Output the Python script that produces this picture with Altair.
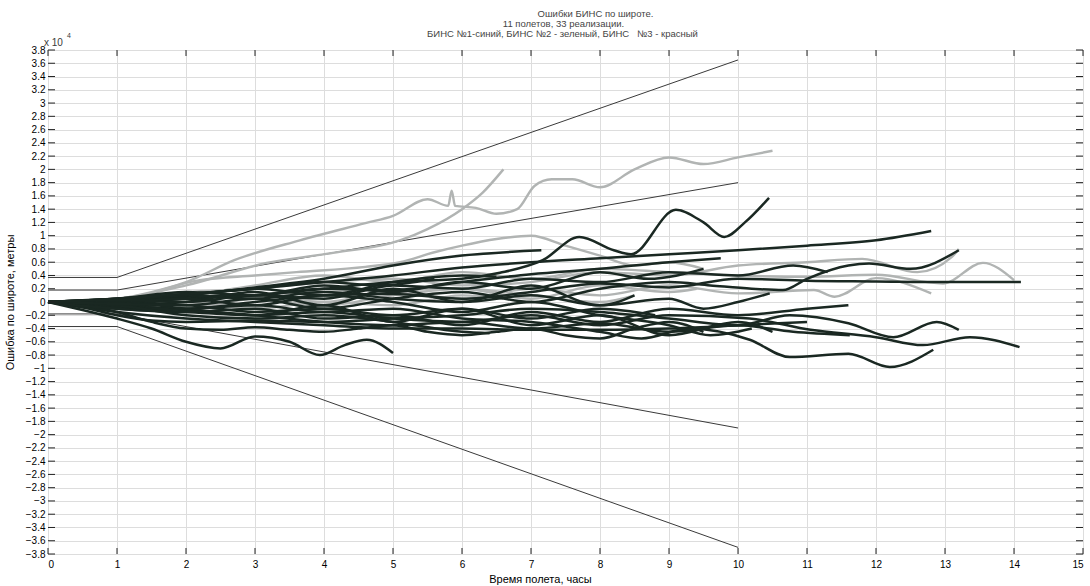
import altair as alt
import pandas as pd

TITLE = ["Ошибки БИНС по широте.", "11 полетов, 33 реализации.",
         "БИНС №1-синий, БИНС №2 - зеленый, БИНС\u00a0\u00a0\u00a0№3 - красный"]
X_TITLE = "Время полета, часы"
Y_TITLE = "Ошибка по широте, метры"
X_TICKS = [0, 1, 2, 3, 4, 5, 6, 7, 8, 9, 10, 11, 12, 13, 14, 15]
Y_TICKS = [-3.8, -3.6, -3.4, -3.2, -3.0, -2.8, -2.6, -2.4, -2.2, -2.0, -1.8, -1.6, -1.4, -1.2,
           -1.0, -0.8, -0.6, -0.4, -0.2, 0.0, 0.2, 0.4, 0.6, 0.8, 1.0, 1.2, 1.4, 1.6, 1.8,
           2.0, 2.2, 2.4, 2.6, 2.8, 3.0, 3.2, 3.4, 3.6, 3.8]

# envelope lines (hours, error x 10^4 m)
ENV_UO = [(0, 0.37), (1, 0.37), (10, 3.65)]
ENV_UI = [(0, 0.18), (1, 0.18), (10, 1.8)]
ENV_LI = [(0, -0.18), (1, -0.18), (10, -1.9)]
ENV_LO = [(0, -0.37), (1, -0.37), (10, -3.7)]

# light (grey) realisations
L1 = [(0, 0), (1, 0.05), (1.5, 0.15), (2, 0.3), (2.7, 0.63), (3.65, 0.93), (4.6, 1.19), (5.0, 1.3),
      (5.5, 1.55), (5.8, 1.45), (5.85, 1.68), (5.9, 1.45), (6.2, 1.42), (6.5, 1.33), (6.8, 1.4),
      (7.05, 1.75), (7.3, 1.85), (7.6, 1.85), (8.0, 1.73), (8.5, 2.0), (9.0, 2.18), (9.5, 2.08),
      (10.0, 2.18), (10.5, 2.28)]
L2 = [(0, 0), (1, 0.05), (2, 0.25), (3.17, 0.59), (4.13, 0.74), (5.1, 0.93), (5.5, 1.1),
      (6.0, 1.4), (6.3, 1.65), (6.6, 2.0)]
L3 = [(0, 0), (1, 0.03), (2.2, 0.33), (3, 0.4), (3.6, 0.45), (4.6, 0.53), (5.1, 0.6), (5.6, 0.75),
      (6, 0.85), (6.5, 0.95), (7, 1.0), (7.5, 0.85), (8, 0.7), (8.5, 0.55), (9, 0.6), (9.5, 0.5)]
L4 = [(0, 0), (1, 0.05), (2, 0.15), (3, 0.2), (4, 0.3), (5, 0.35), (6, 0.25), (7, 0.3), (8, 0.45),
      (9, 0.4), (10, 0.55), (11, 0.6), (11.8, 0.65), (12.6, 0.45), (13.1, 0.68), (13.2, 0.8)]
L5 = [(0, 0), (1, 0.0), (2, 0.05), (3, 0.1), (4, 0.0), (5, 0.15), (6, 0.05), (7, 0.2), (8, 0.1),
      (9, 0.25), (10, 0.13), (11.1, 0.18), (11.4, 0.08), (12, 0.36), (12.8, 0.13)]
L6 = [(0, 0), (1, 0.03), (2, 0.1), (3, 0.25), (4, 0.4), (5, 0.3), (6, 0.45), (7, 0.35), (8, 0.5),
      (9, 0.45), (10, 0.4), (11, 0.38), (12, 0.41), (12.97, 0.28), (13.55, 0.59), (14.0, 0.33)]
L7 = [(0, 0), (2, 0.05), (4, 0.15), (6, 0.2), (7, 0.05), (8, 0.25), (9, 0.15), (9.4, 0.2)]
L8 = [(0, 0), (1, -0.05), (2, -0.1), (3, 0.05), (4, -0.05), (5, 0.1), (6, 0.2), (7, 0.1),
      (8, 0.0), (8.5, 0.1)]
L9 = [(0, 0), (1, -0.02), (2, 0.0), (3, -0.1), (4, 0.0), (5, -0.05), (6, 0.1), (6.6, 0.05)]

# dark realisations
D1 = [(0, 0), (1, -0.02), (2, 0.05), (3, 0.1), (4, 0.2), (5, 0.3), (6, 0.35), (6.55, 0.44),
      (7.17, 0.63), (7.7, 0.98), (8.2, 0.78), (8.45, 0.72), (9.1, 1.39), (9.5, 1.2), (9.8, 0.98),
      (10.1, 1.2), (10.45, 1.57)]
D2 = [(0, 0), (1, 0.05), (2, 0.12), (3, 0.2), (4, 0.3), (5, 0.4), (6, 0.52), (7, 0.6), (8, 0.66),
      (9, 0.72), (10, 0.78), (11, 0.85), (12, 0.93), (12.8, 1.07)]
D3 = [(0, 0), (1, 0.03), (2, 0.1), (3, 0.22), (4, 0.35), (5, 0.55), (6, 0.7), (7.15, 0.78)]
D4 = [(0, 0), (1, 0.0), (2, 0.08), (3, 0.1), (4, 0.2), (5, 0.18), (6, 0.3), (7, 0.42), (8, 0.5),
      (9, 0.6), (9.75, 0.66)]
D5 = [(0, 0), (1, -0.05), (2, -0.1), (3, 0.0), (4, 0.1), (5, 0.12), (6, 0.05), (7, 0.15),
      (8, 0.28), (9, 0.22), (10, 0.35), (11, 0.32), (12, 0.31), (13, 0.3), (14.1, 0.3)]
D6 = [(0, 0), (1, 0.02), (2, -0.05), (3, 0.05), (4, -0.1), (5, 0.05), (6, 0.15), (7, 0.0),
      (8, 0.2), (9, 0.3), (9.6, 0.25), (10.2, 0.2), (10.65, 0.18), (11.0, 0.35), (11.6, 0.55),
      (11.9, 0.58), (12.5, 0.5), (13.2, 0.78)]
D7 = [(0, 0), (1, -0.1), (2, -0.15), (3, -0.2), (4, -0.15), (5, -0.25), (6, -0.3), (7, -0.2),
      (8, -0.35), (9, -0.2), (10.17, -0.25), (11.05, -0.42), (12.0, -0.53), (12.68, -0.65),
      (13.36, -0.53), (14.08, -0.68)]
D8 = [(0, 0), (0.5, -0.08), (1, -0.2), (1.5, -0.28), (2, -0.3), (3, -0.28), (4, -0.3), (5, -0.25),
      (6, -0.2), (7, -0.1), (8, -0.15), (9, -0.25), (10, -0.35), (10.75, -0.2), (11.6, -0.32),
      (12.25, -0.53), (12.88, -0.3), (13.2, -0.42)]
D9 = [(0, 0), (1, -0.05), (2, -0.1), (3, -0.05), (4, -0.15), (5, -0.1), (6, -0.25), (7, -0.3),
      (8, -0.45), (8.6, -0.55), (9.3, -0.4), (10.17, -0.57), (10.75, -0.83), (11.6, -0.78),
      (12.2, -0.98), (12.83, -0.72)]
D10 = [(0, 0), (1, -0.08), (2, -0.12), (3, -0.2), (4, -0.3), (5, -0.35), (6, -0.3), (7, -0.4),
       (8, -0.32), (9, -0.45), (10, -0.35), (10.8, -0.45), (11.62, -0.5)]
D11 = [(0, 0), (1, 0.02), (2, 0.1), (3, 0.05), (4, 0.15), (5, 0.05), (6, 0.0), (7, 0.1),
       (8, -0.05), (9, 0.05), (9.5, -0.1), (10, 0.0), (10.46, 0.13)]
D12 = [(0, 0), (1, -0.15), (2, -0.25), (3, -0.3), (4, -0.35), (5, -0.4), (6, -0.4), (7, -0.42),
       (8, -0.42), (9, -0.4), (10, -0.35), (11.0, -0.3)]
D13 = [(0, 0), (0.5, -0.12), (1, -0.25), (1.5, -0.4), (2, -0.6), (2.5, -0.7), (3, -0.52),
       (3.5, -0.6), (3.94, -0.8), (4.3, -0.65), (4.62, -0.57), (5.0, -0.77)]
D14 = [(0, 0), (1, -0.15), (1.5, -0.3), (2, -0.4), (2.5, -0.42), (3, -0.38), (3.5, -0.42),
       (4, -0.45), (4.5, -0.4), (5, -0.35), (5.5, -0.45), (6, -0.5), (6.5, -0.45), (7, -0.4),
       (7.5, -0.5), (8, -0.55), (8.5, -0.4), (9, -0.3), (9.5, -0.45)]
D15 = [(0, 0), (1, 0.05), (2, 0.15), (3, 0.1), (4, 0.25), (5, 0.15), (6, 0.3), (7, 0.2),
       (8, 0.45), (8.7, 0.35), (9.5, 0.5)]
D16 = [(0, 0), (1, -0.05), (2, 0.0), (3, 0.15), (4, -0.05), (5, 0.2), (6, 0.0), (7, 0.25),
       (8, -0.05), (8.5, 0.1)]
D17 = [(0, 0), (1, 0.0), (2, -0.1), (3, -0.2), (4, -0.05), (5, -0.3), (6, -0.1), (7, -0.35),
       (8, -0.2), (9, -0.5), (10, -0.3), (10.5, -0.45)]
D18 = [(0, 0), (1, 0.05), (2, 0.1), (3, 0.2), (4, 0.1), (5, 0.3), (6, 0.4), (6.5, 0.38)]
D19 = [(0, 0), (1, -0.1), (2, -0.15), (3, -0.1), (4, -0.25), (5, -0.2), (6, -0.35), (7, -0.15),
       (8, -0.3), (9, -0.1), (10, -0.2), (11, -0.1), (11.6, -0.05)]
D20 = [(0, 0), (1, 0.0), (2, 0.05), (3, -0.05), (4, 0.1), (5, 0.0), (6, -0.15), (7, 0.0),
       (8, -0.2), (9, -0.35), (9.6, -0.5), (10.2, -0.4)]
D21 = [(0, 0), (1, 0.05), (2, 0.12), (3, 0.2), (4, 0.3), (4.8, 0.25), (5.6, 0.35)]
D22 = [(0, 0), (1, -0.05), (2, -0.2), (3, -0.25), (4, -0.2), (5, -0.3), (6, -0.45), (6.4, -0.47)]
D23 = [(0, 0), (1, -0.03), (2, -0.05), (3, -0.15), (4, -0.1), (5, -0.2), (6, -0.1), (7, -0.25),
       (8, -0.1), (8.8, -0.2)]
D24 = [(0, 0), (1, 0.03), (2, 0.0), (3, 0.1), (4, 0.05), (5, 0.25), (6, 0.2), (7, 0.35),
       (8, 0.3), (9, 0.45), (10, 0.4), (10.8, 0.55), (11.3, 0.45)]

ENVELOPES = {"uo": ENV_UO, "ui": ENV_UI, "li": ENV_LI, "lo": ENV_LO}
LIGHT = {"L1": L1, "L2": L2, "L3": L3, "L4": L4, "L5": L5, "L6": L6, "L7": L7, "L8": L8, "L9": L9}
DARK = {"D1": D1, "D2": D2, "D3": D3, "D4": D4, "D5": D5, "D6": D6, "D7": D7, "D8": D8,
        "D9": D9, "D10": D10, "D11": D11, "D12": D12, "D13": D13, "D14": D14, "D15": D15,
        "D16": D16, "D17": D17, "D18": D18, "D19": D19, "D20": D20, "D21": D21, "D22": D22,
        "D23": D23, "D24": D24}


def table(series):
    rows = []
    for name, pts in series.items():
        for i, (t, v) in enumerate(pts):
            rows.append({"s": name, "i": i, "t": t, "v": v})
    return pd.DataFrame(rows)


W, H = 1035, 504
FONT = "Liberation Sans"
TXT = "#3a3a3a"

X = alt.X("t:Q", scale=alt.Scale(domain=[0, 15], nice=False, zero=False),
          axis=alt.Axis(values=X_TICKS, title=X_TITLE, grid=True, tickSize=0, domain=False,
                        labelPadding=5, titlePadding=4, titleX=492, titleFontWeight="normal"))
Y = alt.Y("v:Q", scale=alt.Scale(domain=[-3.8, 3.8], nice=False, zero=False),
          axis=alt.Axis(values=Y_TICKS, format=".1~f", title=Y_TITLE, grid=True, tickSize=0,
                        domain=False, labelPadding=3, titlePadding=10, titleFontWeight="normal"))

env = alt.Chart(table(ENVELOPES)).mark_line(color="#3a3a3a", strokeWidth=1).encode(
    x=X, y=Y, detail="s:N", order="i:Q")
light = alt.Chart(table(LIGHT)).mark_line(
    color="#b1b4b3", strokeWidth=2.4, interpolate="monotone").encode(
    x=X, y=Y, detail="s:N", order="i:Q")
dark = alt.Chart(table(DARK)).mark_line(
    color="#1a2822", strokeWidth=2.5, interpolate="monotone").encode(
    x=X, y=Y, detail="s:N", order="i:Q")

xt = pd.DataFrame({"t": X_TICKS})
yt = pd.DataFrame({"v": Y_TICKS})
tick_col = "#222222"
ticks_b = alt.Chart(xt).mark_rule(color=tick_col, strokeWidth=1).encode(
    x=X, y=alt.value(H), y2=alt.value(H - 6))
ticks_t = alt.Chart(xt).mark_rule(color=tick_col, strokeWidth=1).encode(
    x=X, y=alt.value(0), y2=alt.value(6))
ticks_l = alt.Chart(yt).mark_rule(color=tick_col, strokeWidth=1).encode(
    y=Y, x=alt.value(0), x2=alt.value(7))
ticks_r = alt.Chart(yt).mark_rule(color=tick_col, strokeWidth=1).encode(
    y=Y, x=alt.value(W), x2=alt.value(W - 7))

exp_base = alt.Chart(pd.DataFrame({"s": ["x 10"]})).mark_text(
    font=FONT, fontSize=10, color=TXT, align="left", baseline="middle").encode(
    text="s:N", x=alt.value(-4), y=alt.value(-7))
exp_pow = alt.Chart(pd.DataFrame({"s": ["4"]})).mark_text(
    font=FONT, fontSize=7, color=TXT, align="left", baseline="middle").encode(
    text="s:N", x=alt.value(19), y=alt.value(-14))

title_layers = []
for line, yy, xx in zip(TITLE, [-36, -26, -16], [W / 2 + 30, W / 2 - 2, W / 2 - 3]):
    title_layers.append(
        alt.Chart(pd.DataFrame({"s": [line]})).mark_text(
            font=FONT, fontSize=9.5, color="#444", align="center", baseline="middle").encode(
            text="s:N", x=alt.value(xx), y=alt.value(yy)))

chart = alt.layer(env, light, dark, ticks_b, ticks_t, ticks_l, ticks_r, exp_base, exp_pow,
                  *title_layers).properties(
    width=W, height=H,
    autosize=alt.AutoSizeParams(type="none"),
    padding={"left": 48, "top": 50, "right": 7, "bottom": 32},
).configure_view(
    stroke="#222", strokeWidth=1
).configure_axis(
    labelFont=FONT, titleFont=FONT, labelFontSize=10, titleFontSize=10,
    labelColor=TXT, titleColor=TXT, titleFontWeight="normal",
    gridColor="#6e6e6e", gridDash=[1, 2], gridWidth=1, gridOpacity=0.8
).configure(background="white")

chart.save("out.html", embed_options={"renderer": "svg", "actions": False})
